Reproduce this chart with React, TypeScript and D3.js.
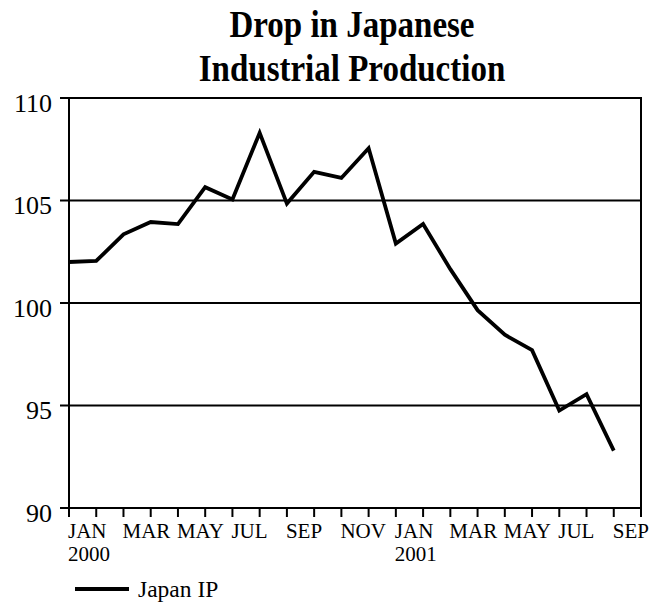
import React from "react";
import * as d3 from "d3";

// Japan industrial production index, monthly, Jan 2000 – Sep 2001
const months = [
  "JAN", "FEB", "MAR", "APR", "MAY", "JUN", "JUL", "AUG", "SEP", "OCT", "NOV", "DEC",
  "JAN", "FEB", "MAR", "APR", "MAY", "JUN", "JUL", "AUG", "SEP",
];
const years = ["2000", "", "", "", "", "", "", "", "", "", "", "", "2001", "", "", "", "", "", "", "", ""];
const japanIP = [
  102.0, 102.05, 103.35, 103.95, 103.85, 105.65, 105.05, 108.3, 104.85, 106.4, 106.1, 107.55,
  102.9, 103.85, 101.65, 99.65, 98.45, 97.7, 94.75, 95.55, 92.8,
];
const yTicks = [90, 95, 100, 105, 110];
const seriesName = "Japan IP";
const titleLines = ["Drop in Japanese", "Industrial Production"];

const W = 661;
const H = 609;
const margin = { left: 69, right: 20, top: 98, bottom: 101 };
const serif = "'Liberation Serif', 'Times New Roman', serif";

export default function App() {
  const x0 = margin.left;
  const x1 = W - margin.right;
  const y0 = margin.top;
  const y1 = H - margin.bottom;

  // one slot per month plus a trailing slot so the axis runs past the last point
  const x = d3.scaleLinear().domain([0, months.length]).range([x0, x1]);
  const y = d3.scaleLinear().domain([90, 110]).range([y1, y0]);

  const line = d3
    .line<number>()
    .x((_, i) => x(i))
    .y((d) => y(d));

  const tickIdx = d3.range(months.length + 1);
  const titleCx = 352;

  return (
    <svg
      width={W}
      height={H}
      style={{ position: "absolute", left: 0, top: 0, background: "#fff" }}
      fontFamily={serif}
    >
      {/* title */}
      {titleLines.map((t, i) => (
        <text
          key={t}
          transform={`translate(${titleCx},${37 + i * 44}) scale(0.88,1)`}
          textAnchor="middle"
          fontSize={37.5}
          fontWeight="bold"
          fill="#000"
        >
          {t}
        </text>
      ))}

      {/* horizontal gridlines and y ticks */}
      {yTicks.map((v) => (
        <g key={v}>
          <line x1={x0 - 9} x2={x1} y1={y(v)} y2={y(v)} stroke="#000" strokeWidth={2} />
          <text x={52} y={y(v) + 13.5} textAnchor="end" fontSize={26} fill="#000">
            {v}
          </text>
        </g>
      ))}

      {/* plot frame */}
      <rect x={x0} y={y0} width={x1 - x0} height={y1 - y0} fill="none" stroke="#000" strokeWidth={2} />

      {/* x ticks */}
      {tickIdx.map((i) => (
        <line key={i} x1={x(i)} x2={x(i)} y1={y1} y2={y1 + 9} stroke="#000" strokeWidth={2} />
      ))}

      {/* x labels, every second month */}
      {months.map((m, i) =>
        i % 2 === 0 ? (
          <g key={i}>
            <text x={x(i) - 1} y={538} fontSize={21} fill="#000">
              {m}
            </text>
            {years[i] && (
              <text x={x(i) - 1} y={561} fontSize={21} fill="#000">
                {years[i]}
              </text>
            )}
          </g>
        ) : null
      )}

      {/* series */}
      <path
        d={line(japanIP) ?? ""}
        fill="none"
        stroke="#000"
        strokeWidth={3.8}
        strokeLinejoin="miter"
      />

      {/* legend */}
      <line x1={75} x2={129} y1={589} y2={589} stroke="#000" strokeWidth={3.8} />
      <text x={138} y={597} fontSize={23.5} fill="#000">
        {seriesName}
      </text>
    </svg>
  );
}
